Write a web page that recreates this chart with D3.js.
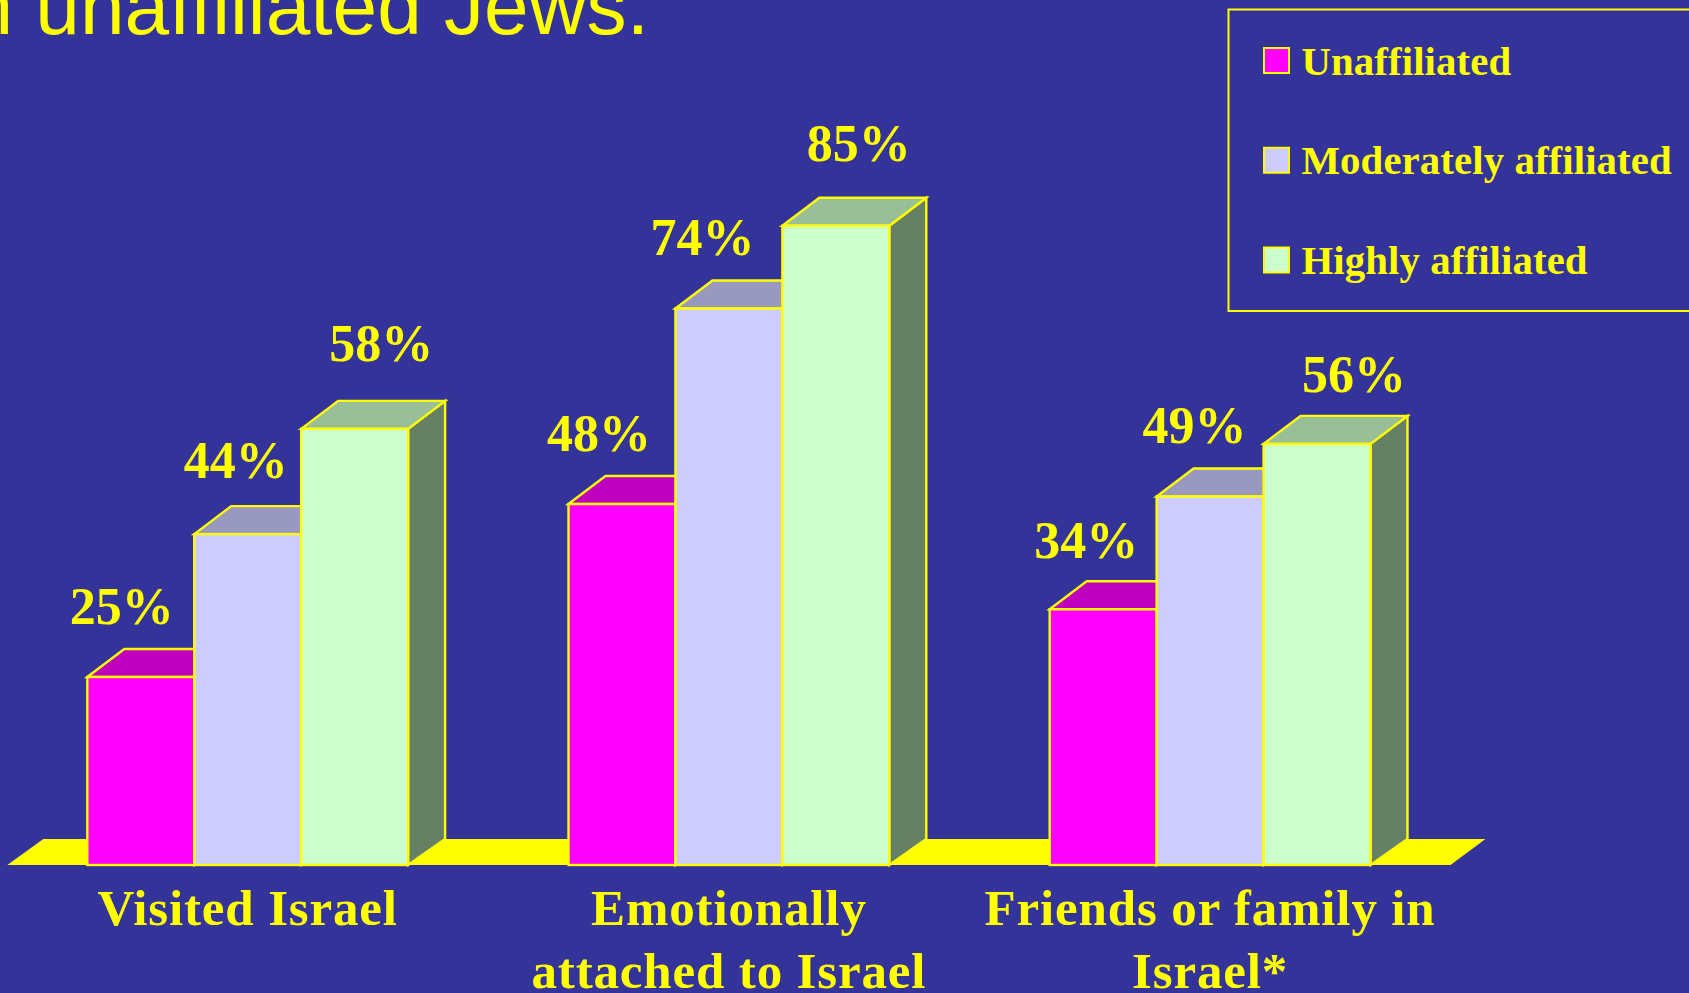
<!DOCTYPE html>
<html><head><meta charset="utf-8">
<script src="https://cdn.jsdelivr.net/npm/d3@7"></script>
<style>html,body{margin:0;padding:0;background:#333399;overflow:hidden}svg{display:block}text{font-variant-ligatures:none}</style>
</head><body><div id="chart"></div>
<script>
const categories = ["Visited Israel", "Emotionally attached to Israel", "Friends or family in Israel*"];
const categoryLines = [["Visited Israel"], ["Emotionally", "attached to Israel"], ["Friends or family in", "Israel*"]];
const seriesNames = ["Unaffiliated", "Moderately affiliated", "Highly affiliated"];
const unaffiliated = [25, 48, 34];
const moderatelyAffiliated = [44, 74, 49];
const highlyAffiliated = [58, 85, 56];
const seriesValues = [unaffiliated, moderatelyAffiliated, highlyAffiliated];
const titleText = "than unaffiliated Jews.";

const frontColors = ["#FF00FF", "#CCCCFF", "#CCFFCC"];
const topColors = ["#BF00BF", "#9999BF", "#99BF99"];
const sideColors = ["#800080", "#666680", "#668066"];
const YELLOW = "#FFFF00", BG = "#333399";
// hand-placed label offsets of the original slide: [dx from bar centre, gap above bar top]
const labelNudge = [
  [[-19, 53.5], [-12, 56.5], [26.5, 67.5]],
  [[-23, 53], [-26.5, 54], [23, 65]],
  [[-17, 51], [-15.5, 54], [37, 52]]
];

const W = 1689, H = 993, depthX = 37, depthBottom = 26, depthTop = 28;
const SERIF = "'Liberation Serif','Times New Roman',serif", SANS = "'Liberation Sans',Arial,sans-serif";

const svg = d3.select("#chart").append("svg").attr("width", W).attr("height", H).attr("viewBox", `0 0 ${W} ${H}`);
svg.append("rect").attr("width", W).attr("height", H).attr("fill", BG);

const x0 = d3.scaleBand().domain(categories).range([87.3, 1370.5]).paddingInner(1 / 3).paddingOuter(0);
const x1 = d3.scaleBand().domain(d3.range(3)).range([0, x0.bandwidth()]);
const y = d3.scaleLinear().domain([0, 100]).range([865, 113]);

// title
svg.append("text").attr("x", 649).attr("y", 34).attr("text-anchor", "end")
  .attr("font-family", SANS).attr("font-size", 80.2).attr("fill", YELLOW).text(titleText);

// floor
const floorL = x0.range()[0] - 80, floorR = x0.range()[1] + 80;
svg.append("path").attr("fill", YELLOW).attr("d",
  d3.line()([[floorL, y(0)], [floorL + 36, y(0) - depthBottom], [floorR + 35, y(0) - depthBottom], [floorR, y(0)]]) + "Z");

// bars
const g = svg.append("g");
categories.forEach((c, ci) => {
  seriesValues.forEach((vals, si) => {
    const l = x0(c) + x1(si), r = l + x1.bandwidth(), t = y(vals[ci]), b = y(0);
    const bar = g.append("g").attr("stroke", YELLOW).attr("stroke-width", 2.4).attr("stroke-linejoin", "miter");
    bar.append("path").attr("fill", sideColors[si]).attr("d",
      d3.line()([[r, t], [r + depthX, t - depthTop], [r + depthX, b - depthBottom], [r, b]]) + "Z");
    bar.append("path").attr("fill", topColors[si]).attr("d",
      d3.line()([[l, t], [l + depthX, t - depthTop], [r + depthX, t - depthTop], [r, t]]) + "Z");
    bar.append("rect").attr("x", l).attr("y", t).attr("width", r - l).attr("height", b - t).attr("fill", frontColors[si]);
  });
});

// value labels
categories.forEach((c, ci) => {
  seriesValues.forEach((vals, si) => {
    svg.append("text").attr("x", x0(c) + x1(si) + x1.bandwidth() / 2 + labelNudge[ci][si][0])
      .attr("y", y(vals[ci]) - labelNudge[ci][si][1]).attr("text-anchor", "middle")
      .attr("font-family", SERIF).attr("font-weight", "bold").attr("font-size", 52).attr("fill", YELLOW)
      .text(vals[ci] + "%");
  });
});

// category labels
categories.forEach((c, ci) => {
  const t = svg.append("text").attr("text-anchor", "middle").attr("font-family", SERIF).attr("font-weight", "bold")
    .attr("font-size", 51).attr("letter-spacing", 0.85).attr("fill", YELLOW);
  categoryLines[ci].forEach((line, i) => {
    t.append("tspan").attr("x", x0(c) + x0.bandwidth() / 2).attr("y", 925 + i * 63).text(line);
  });
});

// legend
svg.append("rect").attr("x", 1228.5).attr("y", 9.5).attr("width", 600).attr("height", 301.5)
  .attr("fill", "none").attr("stroke", YELLOW).attr("stroke-width", 2);
const legendY = d3.scalePoint().domain(seriesNames).range([60.5, 260]);
seriesNames.forEach((n, i) => {
  svg.append("rect").attr("x", 1264).attr("y", legendY(n) - 12.5).attr("width", 25).attr("height", 25)
    .attr("fill", frontColors[i]).attr("stroke", YELLOW).attr("stroke-width", 2);
  svg.append("text").attr("x", 1301.5).attr("y", legendY(n) + 14).attr("font-family", SERIF).attr("font-weight", "bold")
    .attr("font-size", 40.8).attr("letter-spacing", 0.1).attr("fill", YELLOW).text(n);
});
</script></body></html>
